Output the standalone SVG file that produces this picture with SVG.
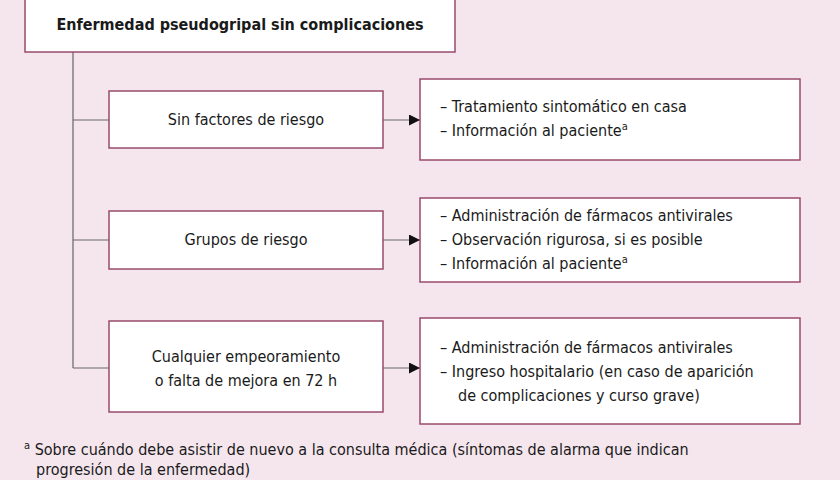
<svg xmlns="http://www.w3.org/2000/svg" width="840" height="480" viewBox="0 0 840 480">
<style>
.b{fill:#fff;stroke:#9b4a6b;stroke-width:1.5}
.t{font-family:"DejaVu Sans Condensed","Liberation Sans",sans-serif;font-size:16px;fill:#1a1a1a}
.c{text-anchor:middle}
.l{stroke:#666;stroke-width:1.2;fill:none}
</style>
<defs><marker id="a" viewBox="0 0 10 10" refX="10" refY="5" markerWidth="11" markerHeight="11" markerUnits="userSpaceOnUse" orient="auto"><path d="M0,0L10,5L0,10z" fill="#111"/></marker></defs>
<rect width="840" height="480" fill="#f5e6ee"/>
<g id="connectors">
<path class="l" d="M73,52V368M73,120H109M73,240H109M73,368H109"/>
<path class="l" d="M383,120H420" marker-end="url(#a)"/>
<path class="l" d="M383,240H420" marker-end="url(#a)"/>
<path class="l" d="M383,368H420" marker-end="url(#a)"/>
</g>
<g id="top"><rect class="b" x="25" y="-2" width="430" height="54"/><text class="t c" x="240" y="30" font-weight="bold">Enfermedad pseudogripal sin complicaciones</text></g>
<g id="n1"><rect class="b" x="109" y="91" width="274" height="57"/><text class="t c" x="246" y="125">Sin factores de riesgo</text></g>
<g id="n2"><rect class="b" x="109" y="211" width="274" height="58"/><text class="t c" x="246" y="245">Grupos de riesgo</text></g>
<g id="n3"><rect class="b" x="109" y="321" width="274" height="91"/><text class="t c" x="246" y="362">Cualquier empeoramiento</text><text class="t c" x="246" y="386">o falta de mejora en 72 h</text></g>
<g id="r1"><rect class="b" x="420" y="79" width="380" height="81"/>
<text class="t" x="440" y="112">– Tratamiento sintomático en casa</text>
<text class="t" x="440" y="136">– Información al paciente<tspan font-size="11" dy="-6">a</tspan></text></g>
<g id="r2"><rect class="b" x="420" y="198" width="380" height="84"/>
<text class="t" x="440" y="221">– Administración de fármacos antivirales</text>
<text class="t" x="440" y="245">– Observación rigurosa, si es posible</text>
<text class="t" x="440" y="269">– Información al paciente<tspan font-size="11" dy="-6">a</tspan></text></g>
<g id="r3"><rect class="b" x="420" y="318" width="380" height="106"/>
<text class="t" x="440" y="353">– Administración de fármacos antivirales</text>
<text class="t" x="440" y="377">– Ingreso hospitalario (en caso de aparición</text>
<text class="t" x="458" y="401">de complicaciones y curso grave)</text></g>
<text class="t" x="24" y="455"><tspan font-size="11" dy="-6">a</tspan><tspan dy="6"> Sobre cuándo debe asistir de nuevo a la consulta médica (síntomas de alarma que indican</tspan></text>
<text class="t" x="36" y="475">progresión de la enfermedad)</text>
</svg>
